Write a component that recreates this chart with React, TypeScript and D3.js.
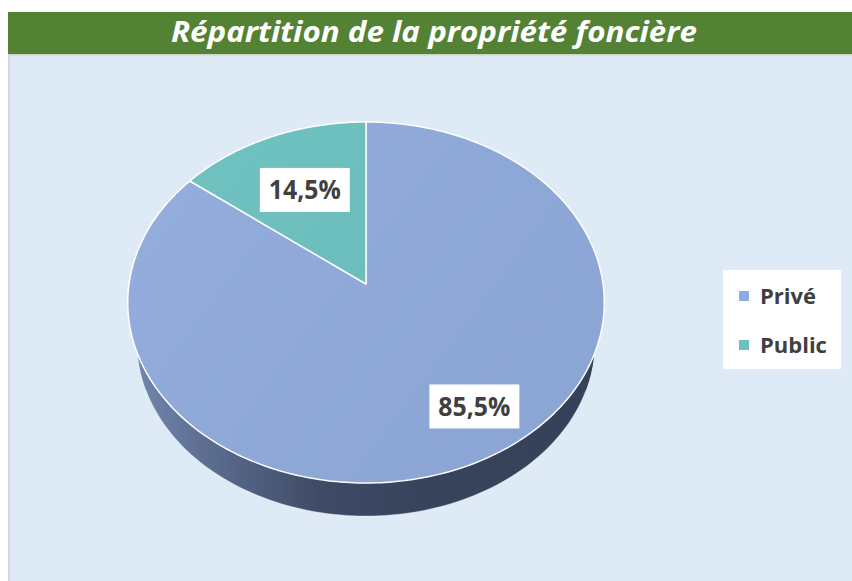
import React from "react";
import * as d3 from "d3";

const title = "Répartition de la propriété foncière";
const categories = ["Privé", "Public"];
const values = [85.5, 14.5];
const labelTexts = ["85,5%", "14,5%"];
const colors = ["#8FAADC", "#6AC1BF"];

const W = 852;
const H = 581;
// projection of the tilted disc
const CX = 366;
const CY = 284;
const RX = 237;
const RY = 178.6;
const PERSP = 0.1025;
const DEPTH = 41;
const BOTTOM_SCALE = 0.96;
// label placement (radius fraction, angle offset in degrees)
const labelLayout = [
  { r: 0.77, da: -7.6 },
  { r: 0.62, da: 0 },
];

function proj(theta: number, r = 1, s = 1, d = 0): [number, number] {
  const x = r * Math.sin(theta);
  const z = -r * Math.cos(theta);
  const w = 1 - PERSP * z;
  return [CX + (s * RX * x) / w, CY + d + (s * RY * z) / w];
}

function arcPoints(a0: number, a1: number, s = 1, d = 0, n = 120): [number, number][] {
  const pts: [number, number][] = [];
  for (let i = 0; i <= n; i++) {
    const t = a0 + ((a1 - a0) * i) / n;
    pts.push(proj(t, 1, s, d));
  }
  return pts;
}

export default function App() {
  const pie = d3
    .pie<number>()
    .sort(null)
    .value((d) => d)(values);
  const line = d3.line();

  const slicePaths = pie.map((a) => {
    const pts: [number, number][] = [[CX, CY], ...arcPoints(a.startAngle, a.endAngle, 1, 0, Math.max(20, Math.round((a.endAngle - a.startAngle) * 60)))];
    return line(pts) + "Z";
  });

  const topFront = arcPoints(Math.PI / 2, (3 * Math.PI) / 2, 1, 0);
  const bottomFront = arcPoints((3 * Math.PI) / 2, Math.PI / 2, BOTTOM_SCALE, DEPTH);
  const sidePath = line([...topFront, ...bottomFront]) + "Z";
  const bottomEdge = line(arcPoints(Math.PI * 0.62, Math.PI * 1.38, BOTTOM_SCALE, DEPTH));

  const labels = pie.map((a, i) => {
    const mid = (a.startAngle + a.endAngle) / 2 + (labelLayout[i].da * Math.PI) / 180;
    const [x, y] = proj(mid, labelLayout[i].r);
    return { x, y, text: labelTexts[i] };
  });

  const legendX = 723;
  const legendY = 270;

  return (
    <svg
      width={W}
      height={H}
      style={{ position: "absolute", left: 0, top: 0 }}
      fontFamily="'Open Sans', sans-serif"
    >
      <defs>
        <linearGradient id="sideGrad" gradientUnits="userSpaceOnUse" x1={CX - RX} x2={CX + RX} y1={0} y2={0}>
          <stop offset="0" stopColor="#7488B0" />
          <stop offset="0.15" stopColor="#5E6F93" />
          <stop offset="0.4" stopColor="#3F4B66" />
          <stop offset="0.6" stopColor="#38445C" />
          <stop offset="1" stopColor="#344159" />
        </linearGradient>
        <linearGradient id="topGrad" gradientUnits="userSpaceOnUse" x1={CX - RX} y1={CY - RY} x2={CX + RX} y2={CY + RY}>
          <stop offset="0" stopColor="#fff" stopOpacity={0.06} />
          <stop offset="1" stopColor="#000" stopOpacity={0.03} />
        </linearGradient>
      </defs>
      <rect x={0} y={0} width={W} height={H} fill="#ffffff" />
      <rect x={8} y={54} width={W - 8} height={H - 54} fill="#DEEAF6" />
      <rect x={8} y={54} width={1.5} height={H - 54} fill="#D4D4D4" />
      <rect x={8} y={12} width={W - 8} height={42} fill="#548235" />
      <rect x={8} y={54} width={W - 8} height={1.5} fill="#C9D6C0" />
      <text
        x={434}
        y={42}
        textAnchor="middle"
        fill="#ffffff"
        fontSize={28}
        fontWeight="bold"
        fontStyle="italic"
        textLength={526}
        lengthAdjust="spacingAndGlyphs"
      >
        {title}
      </text>

      <path d={sidePath} fill="url(#sideGrad)" />
      <path d={bottomEdge ?? ""} fill="none" stroke="#ffffff" strokeOpacity={0.35} strokeWidth={1} />
      {slicePaths.map((d, i) => (
        <path key={categories[i]} d={d} fill={colors[i]} stroke="#ffffff" strokeWidth={1.5} strokeLinejoin="round" />
      ))}
      {slicePaths.map((d, i) => (
        <path key={"g" + i} d={d} fill="url(#topGrad)" />
      ))}

      {labels.map((l, i) => (
        <g key={"l" + i}>
          <rect x={l.x - 45} y={l.y - 22} width={90} height={44} fill="#ffffff" />
          <text
            x={l.x}
            y={l.y + 9.5}
            textAnchor="middle"
            fill="#404040"
            fontSize={26}
            fontWeight="bold"
            textLength={72}
            lengthAdjust="spacingAndGlyphs"
          >
            {l.text}
          </text>
        </g>
      ))}

      <rect x={legendX} y={legendY} width={118} height={99} fill="#ffffff" />
      {categories.map((c, i) => (
        <g key={"lg" + i} transform={`translate(${legendX + 16},${legendY + 21 + i * 49})`}>
          <rect x={0} y={0} width={10} height={10} fill={colors[i]} />
          <text x={21} y={13} fill="#404040" fontSize={22} fontWeight="bold">
            {c}
          </text>
        </g>
      ))}
    </svg>
  );
}
